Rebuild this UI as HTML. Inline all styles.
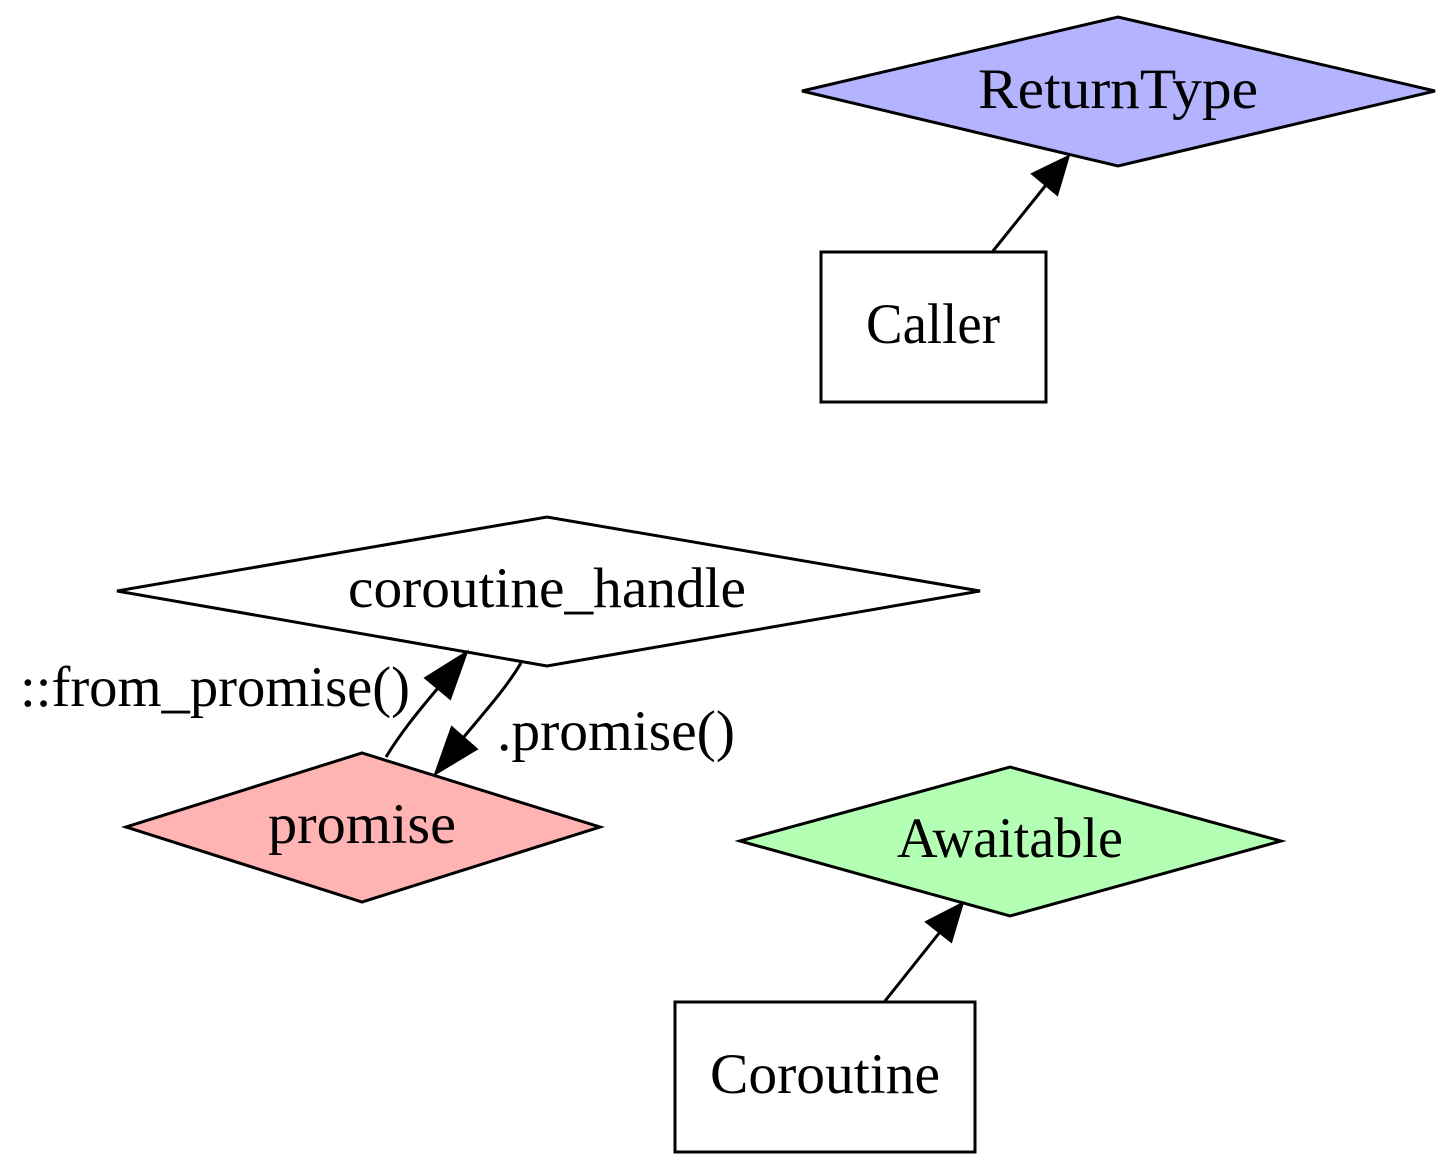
<!DOCTYPE html>
<html><head><style>html,body{margin:0;padding:0;background:#fff;}</style></head>
<body>
<svg width="1453" height="1169" viewBox="0 0 1453 1169" xmlns="http://www.w3.org/2000/svg" font-family="'Liberation Serif', serif" font-size="57">
<rect width="1453" height="1169" fill="#fff"/>
<g stroke="#000" stroke-width="3">
<polygon points="802,91 1118,17 1435,91 1118,166" fill="#b3b3ff"/>
<rect x="821" y="252" width="225" height="150" fill="#fff"/>
<polygon points="117,591 547,517 980,591 547,666" fill="#fff"/>
<polygon points="126,827 362,753 600,827 362,902" fill="#ffb3b3"/>
<polygon points="740,841 1010,767 1281,841 1010,916" fill="#b3ffb3"/>
<rect x="675" y="1002" width="300" height="150" fill="#fff"/>
<line x1="993" y1="251" x2="1046" y2="185" fill="none"/>
<polygon points="1033,174 1068,157 1057,194" fill="#000"/>
<line x1="885" y1="1001" x2="940" y2="932" fill="none"/>
<polygon points="927,922 962,904 951,941" fill="#000"/>
<path d="M386,757 C400,734 416,714 438,688" fill="none"/>
<polygon points="426,678 466,653 450,698" fill="#000"/>
<path d="M521,663 C506,688 488,708 463,738" fill="none"/>
<polygon points="476,749 436,773 452,728" fill="#000"/>
</g>
<g fill="#000" text-anchor="middle">
<text x="1118" y="108" textLength="280" lengthAdjust="spacingAndGlyphs">ReturnType</text>
<text x="933" y="343" textLength="134" lengthAdjust="spacingAndGlyphs">Caller</text>
<text x="547" y="607" textLength="398" lengthAdjust="spacingAndGlyphs">coroutine_handle</text>
<text x="362" y="843" textLength="188" lengthAdjust="spacingAndGlyphs">promise</text>
<text x="1010" y="857" textLength="226" lengthAdjust="spacingAndGlyphs">Awaitable</text>
<text x="825" y="1093" textLength="230" lengthAdjust="spacingAndGlyphs">Coroutine</text>
</g>
<g fill="#000">
<text x="20" y="706" textLength="390" lengthAdjust="spacingAndGlyphs">::from_promise()</text>
<text x="497" y="750" textLength="238" lengthAdjust="spacingAndGlyphs">.promise()</text>
</g>
</svg>
</body></html>
